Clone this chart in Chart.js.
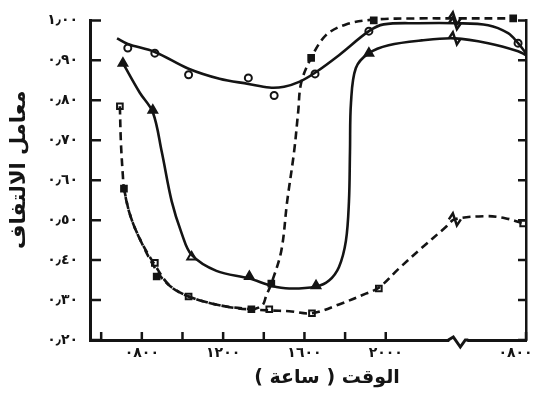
<!DOCTYPE html>
<html>
<head>
<meta charset="utf-8">
<script src="https://cdn.jsdelivr.net/npm/chart.js@4.4.1/dist/chart.umd.min.js"></script>
<style>
  html, body { margin: 0; background: #fff; }
  #wrap { width: 533px; height: 394px; }
</style>
</head>
<body>
<div id="wrap"><canvas id="c"></canvas></div>
<script>
// x = hour of day on a broken axis: next day's 0800 sits at 26.9
const hourTicks = [6, 8, 10, 12, 14, 16, 18, 20, 26.9];
const hourLabels = ['', '٠٨٠٠', '', '١٢٠٠', '', '١٦٠٠', '', '٢٠٠٠', '٠٨٠٠\u2002\u2002\u2002'];
const coefTicks = [0.2, 0.3, 0.4, 0.5, 0.6, 0.7, 0.8, 0.9, 1.0];
const coefLabels = ['٠٫٢٠', '٠٫٣٠', '٠٫٤٠', '٠٫٥٠', '٠٫٦٠', '٠٫٧٠', '٠٫٨٠', '٠٫٩٠', '١٫٠٠'];
const BREAK_AT = 23.4;
const AXIS_BREAK = 23.57;

// open circles, solid line
const circleCurve = [
  [6.78, 0.955], [7.31, 0.941], [8.64, 0.921], [10.30, 0.879], [11.82, 0.854],
  [13.24, 0.841], [14.27, 0.832], [15.00, 0.834], [15.74, 0.846], [16.52, 0.869],
  [17.70, 0.913], [19.17, 0.973], [19.90, 0.990], [21.61, 0.993], [BREAK_AT, 0.993],
  [25.04, 0.988], [26.02, 0.968], [26.51, 0.943], [26.90, 0.918],
];
const circleMarks = [
  [7.31, 0.931], [8.64, 0.918], [10.30, 0.864], [13.24, 0.856], [14.51, 0.812],
  [16.52, 0.866], [19.17, 0.973], [26.51, 0.943],
];

// triangles, solid line
const triangleCurve = [
  [7.07, 0.893], [7.90, 0.819], [8.54, 0.770], [8.98, 0.671], [9.47, 0.547],
  [9.96, 0.467], [10.45, 0.413], [11.67, 0.373], [13.29, 0.354], [14.37, 0.336],
  [15.25, 0.329], [16.57, 0.334], [17.21, 0.349], [17.70, 0.383], [18.04, 0.448],
  [18.19, 0.547], [18.24, 0.671], [18.29, 0.794], [18.53, 0.881], [19.17, 0.918],
  [20.14, 0.938], [21.76, 0.950], [BREAK_AT, 0.955], [25.04, 0.943], [26.51, 0.923],
  [26.90, 0.913],
];
const triangleMarks = [
  [7.07, 0.893], [8.54, 0.775], [10.45, 0.408], [13.29, 0.359], [16.57, 0.336], [19.17, 0.918],
];
const triangleFilled = [true, true, false, true, true, true];

// filled squares, dashed line
const solidSquareCurve = [
  [7.12, 0.579], [7.41, 0.515], [7.90, 0.453], [8.73, 0.373], [9.37, 0.336],
  [10.30, 0.309], [11.82, 0.287], [13.39, 0.277], [13.93, 0.287], [14.12, 0.311],
  [14.37, 0.341], [14.86, 0.423], [15.15, 0.547], [15.49, 0.671], [15.69, 0.770],
  [15.84, 0.844], [16.33, 0.906], [17.06, 0.963], [18.04, 0.990], [19.41, 1.002],
  [21.61, 1.005], [BREAK_AT, 1.005], [26.27, 1.005],
];
const solidSquareMarks = [
  [7.12, 0.579], [8.73, 0.359], [13.39, 0.277], [14.37, 0.341], [16.33, 0.906],
  [19.41, 1.0], [26.27, 1.005],
];

// open squares, dashed line
const openSquareCurve = [
  [6.92, 0.785], [6.97, 0.695], [7.07, 0.609], [7.12, 0.579], [7.41, 0.515],
  [7.90, 0.453], [8.64, 0.388], [9.37, 0.336], [10.30, 0.309], [11.82, 0.287],
  [13.39, 0.277], [14.27, 0.274], [15.25, 0.272], [16.37, 0.267], [17.70, 0.289],
  [19.02, 0.316], [19.66, 0.331], [20.63, 0.378], [21.76, 0.430], [22.94, 0.482],
  [BREAK_AT, 0.502], [24.90, 0.510], [25.87, 0.505], [26.76, 0.492],
];
const openSquareMarks = [
  [6.92, 0.785], [8.64, 0.393], [10.30, 0.309], [14.27, 0.277], [16.37, 0.267],
  [19.66, 0.329], [26.76, 0.492],
];

const INK = '#141414';
const pts = arr => arr.map(([x, y]) => ({ x, y }));

function curve(data, dashed) {
  return {
    data: pts(data), borderColor: INK, borderWidth: 2.6, borderDash: dashed ? [8, 5] : [],
    pointRadius: 0, tension: 0.35, fill: false, clip: false,
  };
}
function marks(data, style, fills, radius) {
  return {
    data: pts(data), showLine: false, pointStyle: style, pointRadius: radius,
    pointBorderColor: INK, pointBorderWidth: 2, pointBackgroundColor: fills, clip: false,
  };
}

const lineBreaks = {
  id: 'lineBreaks',
  afterDraw(chart) {
    const { ctx, scales: { x, y, y2 }, chartArea: a } = chart;
    ctx.save();
    ctx.strokeStyle = INK;
    ctx.lineWidth = 2.5;
    ctx.beginPath();
    x.ticks.forEach(t => {
      const px = x.getPixelForValue(t.value);
      ctx.moveTo(px, a.bottom); ctx.lineTo(px, a.bottom - 8);
    });
    y.ticks.forEach(t => {
      const py = y.getPixelForValue(t.value);
      ctx.moveTo(a.left, py); ctx.lineTo(a.left + 11, py);
    });
    y2.ticks.forEach(t => {
      const py = y2.getPixelForValue(t.value);
      ctx.moveTo(a.right, py); ctx.lineTo(a.right - 8, py);
    });
    ctx.stroke();

    // zigzag in the time axis
    const bx = x.getPixelForValue(AXIS_BREAK);
    ctx.fillStyle = '#fff';
    ctx.fillRect(bx - 9, a.bottom - 3, 18, 6);
    ctx.lineWidth = 3;
    ctx.beginPath();
    ctx.moveTo(bx - 10, a.bottom);
    ctx.lineTo(bx - 5, a.bottom - 3);
    ctx.lineTo(bx + 2, a.bottom + 7);
    ctx.lineTo(bx + 7, a.bottom);
    ctx.lineTo(bx + 10, a.bottom);
    ctx.stroke();

    // zigzags on the curves
    ctx.lineWidth = 2.5;
    chart.data.datasets.forEach((ds, i) => {
      if (ds.showLine === false) return;
      const meta = chart.getDatasetMeta(i);
      ds.data.forEach((p, j) => {
        if (p.x !== BREAK_AT) return;
        const el = meta.data[j];
        ctx.beginPath();
        ctx.moveTo(el.x - 6, el.y);
        ctx.lineTo(el.x - 2, el.y - 6);
        ctx.lineTo(el.x + 2, el.y + 6);
        ctx.lineTo(el.x + 6, el.y);
        ctx.stroke();
      });
    });
    ctx.restore();
  }
};

Chart.defaults.font.family = "'DejaVu Sans', sans-serif";
Chart.defaults.color = INK;

new Chart(document.getElementById('c'), {
  type: 'line',
  data: {
    datasets: [
      curve(circleCurve, false),
      curve(triangleCurve, false),
      curve(solidSquareCurve, true),
      curve(openSquareCurve, true),
      marks(circleMarks, 'circle', '#fff', 3.5),
      marks(triangleMarks, 'triangle', triangleFilled.map(f => f ? INK : '#fff'), 5),
      marks(solidSquareMarks, 'rect', INK, 4),
      marks(openSquareMarks, 'rect', '#fff', 4),
    ],
  },
  options: {
    responsive: true,
    maintainAspectRatio: false,
    animation: false,
    layout: { padding: { top: 17, right: 0, left: 0, bottom: 0 } },
    plugins: { legend: { display: false }, tooltip: { enabled: false } },
    scales: {
      x: {
        type: 'linear', min: 5.45, max: 26.9,
        grid: { display: false, drawTicks: false },
        border: { display: true, color: INK, width: 3 },
        afterBuildTicks: s => { s.ticks = hourTicks.map(v => ({ value: v })); },
        ticks: {
          autoSkip: false, maxRotation: 0, padding: 5,
          font: { size: 14, weight: 'bold' },
          callback: (v, i) => hourLabels[i],
        },
        title: {
          display: true,
          // right-to-left embedding so the words keep their order on the canvas
          text: '\u2003\u2003\u202B' + 'الوقت ( ساعة )' + '\u202C',
          font: { size: 19, weight: 'bold' }, padding: { top: 0, bottom: 5 },
        },
        afterFit: s => { s.height = 54; s.paddingRight = 0; s.paddingLeft = 0; },
      },
      y: {
        min: 0.2, max: 1.0,
        grid: { display: false, drawTicks: false },
        border: { display: true, color: INK, width: 3 },
        afterBuildTicks: s => { s.ticks = coefTicks.map(v => ({ value: v })); },
        ticks: {
          padding: 12, font: { size: 14, weight: 'bold' },
          callback: (v, i) => coefLabels[i],
        },
        title: {
          display: true, text: '\u2003\u202B' + 'معامل الالتفاف' + '\u202C',
          font: { size: 21, weight: 'bold' }, padding: { top: 7, bottom: 0 },
        },
        afterFit: s => { s.width = 90; },
      },
      y2: {
        position: 'right', min: 0.2, max: 1.0,
        grid: { display: false, drawTicks: false },
        border: { display: true, color: INK, width: 2.5 },
        afterBuildTicks: s => { s.ticks = coefTicks.map(v => ({ value: v })); },
        ticks: { display: false },
        afterFit: s => { s.width = 5; },
      },
    },
  },
  plugins: [lineBreaks],
});
</script>
</body>
</html>
